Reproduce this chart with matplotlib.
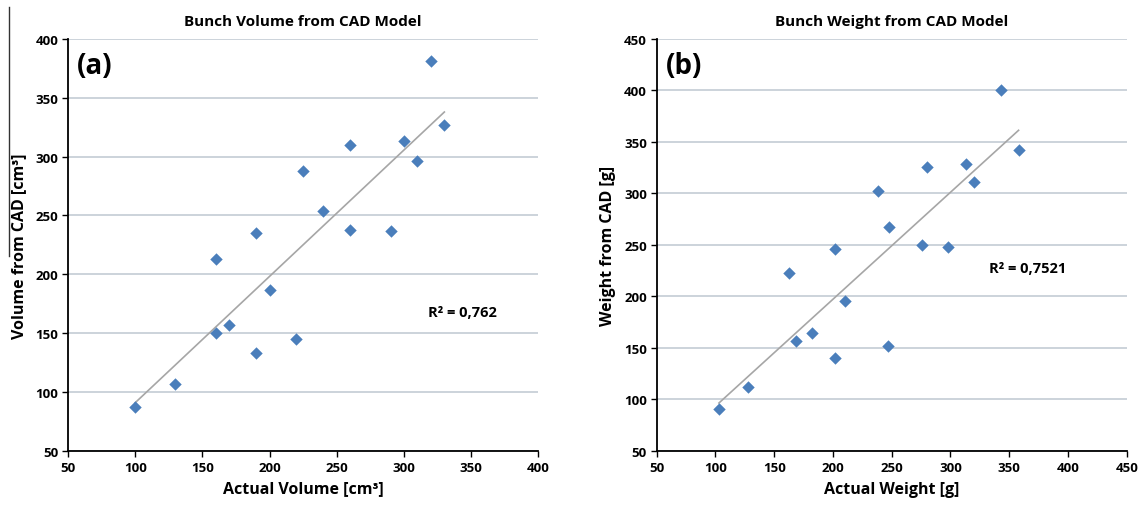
import numpy as np
import matplotlib.pyplot as plt
from matplotlib.lines import Line2D

plt.rcParams['font.family'] = ['Open Sans', 'DejaVu Sans']

# (a) bunch volume
vol_actual = [100, 130, 160, 160, 170, 190, 190, 200, 220, 225, 240, 260, 260, 290, 300, 310, 320, 330]
vol_cad = [87, 107, 213, 150, 157, 235, 133, 187, 145, 288, 254, 310, 238, 237, 313, 296, 381, 327]

# (b) bunch weight
wt_actual = [103, 128, 163, 169, 182, 202, 202, 210, 238, 247, 248, 276, 280, 298, 313, 320, 343, 358]
wt_cad = [91, 112, 223, 157, 164, 246, 140, 196, 302, 152, 267, 250, 326, 248, 329, 311, 400, 342]

BLUE = '#4a7ebb'
GRID = '#c8d0d8'


def scatter_panel(ax, x, y, lim, title, xlabel, ylabel, tag, r2, r2pos):
    x = np.array(x)
    y = np.array(y)
    ax.scatter(x, y, marker='D', s=40, color=BLUE, zorder=3, linewidths=0)
    k, b = np.polyfit(x, y, 1)
    xs = np.array([x.min(), x.max()])
    ax.plot(xs, k * xs + b, color='#a6a6a6', lw=1.2, zorder=2)
    ax.set_xlim(lim)
    ax.set_ylim(lim)
    ticks = np.arange(lim[0], lim[1] + 1, 50)
    ax.set_xticks(ticks)
    ax.set_yticks(ticks)
    ax.tick_params(labelsize=9.5, length=4, width=1, direction='out', pad=3)
    for lab in ax.get_xticklabels() + ax.get_yticklabels():
        lab.set_fontweight('bold')
    ax.yaxis.grid(True, color=GRID, lw=1.3)
    ax.set_axisbelow(True)
    ax.spines['top'].set_visible(False)
    ax.spines['right'].set_visible(False)
    ax.spines['left'].set_linewidth(1.3)
    ax.spines['bottom'].set_linewidth(1.3)
    ax.set_title(title, fontsize=11, fontweight='bold', pad=10)
    ax.set_xlabel(xlabel, fontsize=11.5, fontweight='bold', labelpad=5)
    ax.set_ylabel(ylabel, fontsize=11.5, fontweight='bold', labelpad=6)
    ax.text(0.02, 0.935, tag, transform=ax.transAxes, fontsize=20,
            fontweight='bold', va='center', ha='left')
    ax.text(r2pos[0], r2pos[1], r2, fontsize=10.5, fontweight='bold',
            va='center', ha='left')


fig = plt.figure(figsize=(11.42, 5.06), dpi=100)
ax1 = fig.add_axes([0.0595, 0.107, 0.412, 0.814])
ax2 = fig.add_axes([0.575, 0.107, 0.4116, 0.814])

scatter_panel(ax1, vol_actual, vol_cad, (50, 400), 'Bunch Volume from CAD Model',
              'Actual Volume [cm³]', 'Volume from CAD [cm³]', '(a)',
              'R² = 0,762', (318, 168))
scatter_panel(ax2, wt_actual, wt_cad, (50, 450), 'Bunch Weight from CAD Model',
              'Actual Weight [g]', 'Weight from CAD [g]', '(b)',
              'R² = 0,7521', (333, 228))

# thin scan artefact line at the left edge
fig.add_artist(Line2D([0.008, 0.008], [0.492, 0.984], color='#333333', lw=1))

fig.savefig('out.png', dpi=100)
